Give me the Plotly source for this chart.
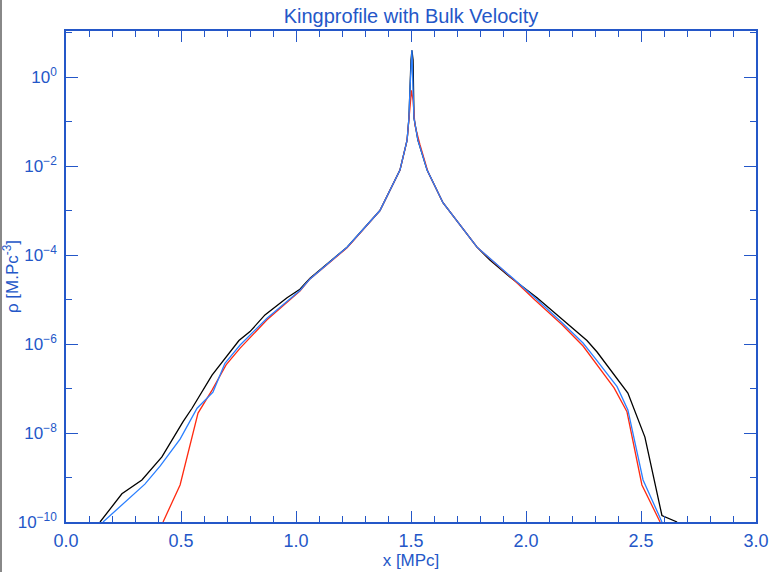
import plotly.graph_objects as go

# ---- data (x in MPc, rho) ----
black_x = [0.148, 0.243, 0.330, 0.417, 0.509, 0.548, 0.635, 0.752, 0.800, 0.865, 0.961, 1.017, 1.061,
           1.222, 1.365, 1.452, 1.483, 1.491, 1.500, 1.504, 1.509, 1.513, 1.530, 1.570, 1.639, 1.787,
           1.843, 1.930, 2.048, 2.161, 2.265, 2.309, 2.443, 2.517, 2.591, 2.657]
black_y = [1.0e-10, 4.3e-10, 8.8e-10, 2.9e-9, 1.8e-8, 3.6e-8, 2.0e-7, 1.2e-6, 1.9e-6, 4.5e-6, 1.1e-5, 1.7e-5, 3.0e-5,
           1.5e-4, 1.0e-3, 8.1e-3, 3.8e-2, 0.12, 2.4, 4.0, 2.4, 0.12, 3.8e-2, 8.1e-3, 1.5e-3, 1.5e-4,
           7.7e-5, 3.2e-5, 1.1e-5, 3.5e-6, 1.2e-6, 6.6e-7, 7.9e-8, 8.1e-9, 1.4e-10, 1.0e-10]

blue_x = [0.161, 0.343, 0.409, 0.496, 0.570, 0.639, 0.691, 0.757, 0.874, 1.017, 1.061,
          1.222, 1.365, 1.452, 1.483, 1.491, 1.496, 1.500, 1.504, 1.509, 1.513, 1.530, 1.570, 1.639, 1.787,
          1.943, 2.039, 2.157, 2.248, 2.300, 2.396, 2.443, 2.509, 2.591]
blue_y = [1.0e-10, 7.1e-10, 1.8e-9, 7.3e-9, 3.6e-8, 8.3e-8, 3.7e-7, 9.5e-7, 3.8e-6, 1.6e-5, 2.9e-5,
          1.5e-4, 1.0e-3, 8.1e-3, 3.8e-2, 0.12, 0.6, 2.0, 4.0, 0.5, 0.12, 3.8e-2, 8.1e-3, 1.5e-3, 1.5e-4,
          3.0e-5, 1.1e-5, 3.0e-6, 1.05e-6, 4.8e-7, 1.1e-7, 3.3e-8, 8.8e-10, 1.0e-10]

red_x = [0.422, 0.496, 0.574, 0.635, 0.696, 0.757, 0.874, 1.017, 1.061,
         1.222, 1.365, 1.452, 1.483, 1.496, 1.502, 1.509, 1.517, 1.539, 1.574, 1.639, 1.787,
         1.943, 2.039, 2.157, 2.248, 2.383, 2.439, 2.504, 2.583]
red_y = [1.0e-10, 6.8e-10, 2.8e-8, 9.2e-8, 3.4e-7, 8.1e-7, 3.5e-6, 1.55e-5, 2.9e-5,
         1.45e-4, 1.0e-3, 8.1e-3, 3.8e-2, 0.3, 0.5, 0.3, 8.3e-2, 3.0e-2, 7.3e-3, 1.5e-3, 1.5e-4,
         2.9e-5, 9.7e-6, 2.7e-6, 9.0e-7, 1.03e-7, 3.0e-8, 6.8e-10, 1.0e-10]

x_ticks = [0.0, 0.5, 1.0, 1.5, 2.0, 2.5, 3.0]
x_ticklabels = ["0.0", "0.5", "1.0", "1.5", "2.0", "2.5", "3.0"]
y_ticks = [1e0, 1e-2, 1e-4, 1e-6, 1e-8, 1e-10]
y_ticklabels = ["10<sup>0</sup>", "10<sup>−2</sup>", "10<sup>−4</sup>", "10<sup>−6</sup>",
                "10<sup>−8</sup>", "10<sup>−10</sup>"]
y_minor = [1e1, 1e-1, 1e-3, 1e-5, 1e-7, 1e-9]

AX = "#2457c8"
FONT = "Liberation Sans, Arial, sans-serif"

fig = go.Figure()
fig.add_trace(go.Scatter(x=black_x, y=black_y, mode="lines", line=dict(color="#000000", width=1.3)))
fig.add_trace(go.Scatter(x=red_x, y=red_y, mode="lines", line=dict(color="#ff2a10", width=1.3)))
fig.add_trace(go.Scatter(x=blue_x, y=blue_y, mode="lines", line=dict(color="#2a7fff", width=1.3)))

fig.update_layout(
    width=773, height=572,
    margin=dict(l=66, r=17, t=31, b=50, autoexpand=False),
    paper_bgcolor="white", plot_bgcolor="white",
    showlegend=False,
    title=dict(text="Kingprofile with Bulk Velocity", x=(411 / 773), xanchor="center",
               y=1 - 16 / 572, yanchor="middle",
               font=dict(family=FONT, size=20, color=AX)),
    font=dict(family=FONT, color=AX),
)
fig.update_xaxes(
    range=[0, 3], tickvals=x_ticks, ticktext=x_ticklabels, automargin=False,
    showgrid=False, zeroline=False,
    showline=True, linecolor=AX, linewidth=1.5, mirror="ticks",
    ticks="inside", ticklen=11, tickwidth=1.2, tickcolor=AX,
    tickfont=dict(family=FONT, size=18, color=AX), ticklabelstandoff=2,
    minor=dict(dtick=0.1, ticks="inside", ticklen=6, tickwidth=1, tickcolor=AX, showgrid=False),
    title=dict(text="x [MPc]", font=dict(family=FONT, size=17, color=AX), standoff=2),
)
fig.update_yaxes(
    type="log", range=[-10, 1.034], tickvals=y_ticks, ticktext=y_ticklabels, automargin=False,
    showgrid=False, zeroline=False,
    showline=True, linecolor=AX, linewidth=1.5, mirror="ticks",
    ticks="inside", ticklen=12, tickwidth=1.2, tickcolor=AX,
    tickfont=dict(family=FONT, size=17, color=AX), ticklabelstandoff=4,
    minor=dict(tickvals=y_minor, ticks="inside", ticklen=6, tickwidth=1, tickcolor=AX, showgrid=False),
    title=dict(text="ρ [M.Pc<sup>-3</sup>]", font=dict(family=FONT, size=17, color=AX), standoff=6),
)
fig.add_shape(type="line", xref="paper", yref="paper", x0=-65 / 690, x1=-65 / 690, y0=-50 / 491, y1=(491 + 31) / 491,
              line=dict(color="#888888", width=2))

fig.write_html("out.html")
